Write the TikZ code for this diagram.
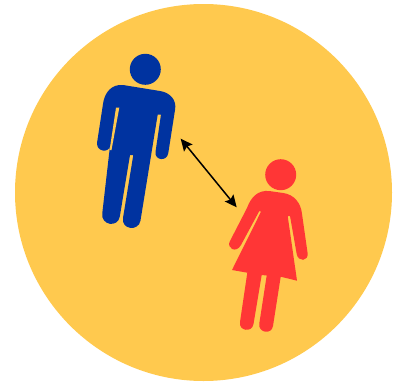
\documentclass[tikz,border=0pt]{standalone}
\usetikzlibrary{arrows.meta}
\definecolor{disc}{HTML}{FFC94E}
\definecolor{manblue}{HTML}{0033A0}
\definecolor{womanred}{HTML}{FF3636}
\tikzset{
  disc/.style={fill=disc,draw=none},
  manshape/.style={fill=manblue,draw=none},
  womanshape/.style={fill=womanred,draw=none},
  link/.style={draw=black,line width=1.5pt,{Stealth[length=12pt,width=11pt,inset=2pt]}-{Stealth[length=12pt,width=11pt,inset=2pt]}}
}
\begin{document}
\begin{tikzpicture}[x=1pt,y=-1pt]
\useasboundingbox (0,0) rectangle (393,383);
\fill[disc] (203.5,192.5) circle[radius=188.5pt];
% man
\fill[manshape] (145.3,69.3) circle[radius=15.5pt];
\fill[manshape] (123,85)
  -- (160,91) .. controls (170,92.5) and (177,100) .. (175,110)
  -- (168.3,153) .. controls (167,162) and (154.5,160.5) .. (155.5,152)
  -- (161,114.5) -- (157.7,114.5)
  -- (140.5,220.5) .. controls (138.5,232) and (121,229.5) .. (123,218)
  -- (133.3,155) -- (130,155)
  -- (119.8,216.5) .. controls (118,228) and (100.5,225.5) .. (102.3,213)
  -- (110,146) .. controls (109,153) and (96.5,152) .. (97,143)
  -- (103,104) .. controls (104.5,92) and (112,84) .. (123,85)
  -- cycle;
\fill[disc] (116,107.7) -- (119.3,107.7) -- (111.5,150) -- (109.6,150) -- cycle;
% woman
\fill[womanshape] (269,191)
  -- (283.3,193) .. controls (294,194.5) and (301,203) .. (302,214)
  -- (307.5,252.5) .. controls (309,262) and (298,262) .. (296.7,254)
  -- (290,216) -- (287.7,216)
  -- (297,280.7) -- (280.7,276.7)
  -- (273,326) .. controls (271.5,335) and (258,333) .. (259.3,323.5)
  -- (266.7,275.5) -- (261.7,275)
  -- (253.5,324) .. controls (252,333) and (238.5,331) .. (240,322)
  -- (247.3,272.7) -- (232,270)
  -- (261,211.7) -- (259.3,211)
  -- (241,245) .. controls (236,254) and (226,248) .. (230,241)
  -- (247,208) .. controls (251,197) and (258,190) .. (269,191)
  -- cycle;
\fill[womanshape] (280.7,174.7) circle[radius=15.5pt];
% connector
\coordinate (manside) at (180.7,138.7);
\coordinate (womanside) at (236.7,207.3);
\draw[link] (manside) -- (womanside);
\end{tikzpicture}
\end{document}
